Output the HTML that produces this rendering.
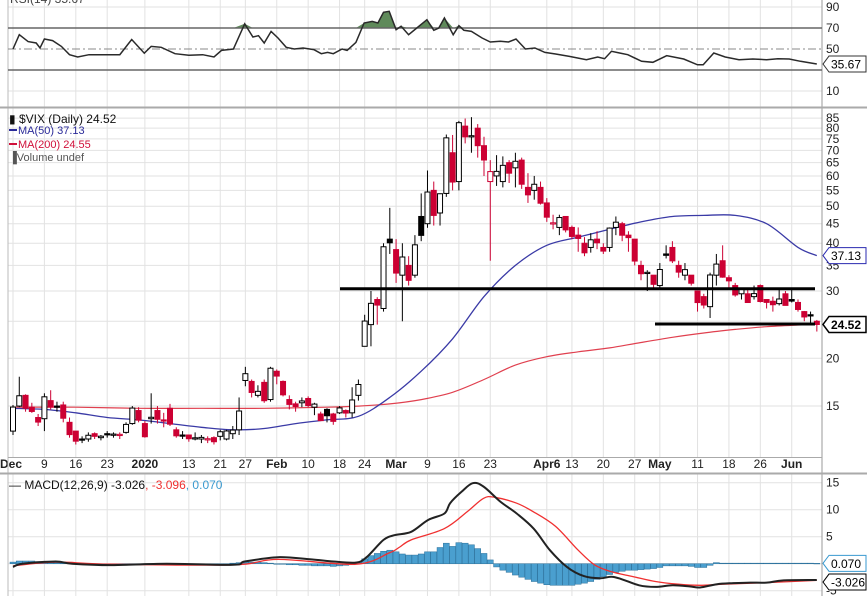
<!DOCTYPE html>
<html><head><meta charset="utf-8"><style>
body{margin:0;background:#fff;}
svg{display:block;font-family:"Liberation Sans",sans-serif;}
</style></head><body>
<svg id="c" width="867" height="596" viewBox="0 0 867 596" xmlns="http://www.w3.org/2000/svg"></svg>
<script>
const xLabels=["Dec","9","16","23","2020","13","21","27","Feb","10","18","24","Mar","9","16","23","Apr6","13","20","27","May","11","18","26","Jun"];
const xLabelIdx=[0,5,10,15,21,28,33,37,42,47,52,56,61,66,71,76,85,89,94,99,103,109,114,119,124];
const boldLabels=["Dec","2020","Feb","Mar","Apr6","May","Jun"];
const opens=[12.9,15.0,16.0,14.9,14.0,13.9,15.5,15.0,15.1,13.6,12.9,12.3,12.3,12.7,12.4,12.7,12.6,12.6,12.8,13.5,14.6,
13.5,13.9,14.6,13.8,14.8,13.0,12.6,12.6,12.3,12.3,12.3,12.4,12.5,12.3,12.7,13.0,17.5,17.4,16.0,17.3,15.6,
18.5,17.4,15.6,15.2,15.3,15.7,14.9,14.3,14.7,14.3,14.4,14.6,14.4,16.0,21.5,24.5,28.5,27.0,41.0,
38.5,33.0,35.0,33.0,47.0,45.0,55.0,48.0,54.0,69.0,58.0,81.0,76.0,80.0,72.0,58.0,60.0,58.0,65.0,63.0,66.0,56.0,
55.0,56.0,51.0,45.0,44.0,47.0,44.0,42.0,40.0,39.0,41.0,39.0,39.0,44.0,45.0,42.0,41.0,35.0,33.5,33.0,31.0,
37.5,39.0,35.0,33.0,33.0,30.0,29.0,27.3,33.0,36.0,32.5,31.0,29.5,29.5,29.0,31.0,28.5,28.2,27.8,29.5,
28.5,28.0,26.5,26.0,25.0];
const highs=[15.1,17.9,16.1,15.3,14.3,16.2,16.5,15.4,15.4,14.0,12.9,12.5,12.8,12.8,12.6,12.9,12.8,12.8,13.6,15.0,14.9,
13.7,16.2,15.0,14.4,15.2,13.2,12.9,12.6,12.8,12.6,12.5,12.5,13.0,13.0,13.3,15.8,19.0,17.6,17.0,17.6,19.0,
18.7,17.5,16.0,15.4,15.8,15.9,15.3,14.5,14.8,14.4,15.0,14.7,16.8,17.6,26.0,30.0,28.9,40.0,49.5,
41.0,40.0,37.0,42.0,54.0,62.0,58.0,54.0,77.0,76.8,83.6,84.8,85.5,82.0,76.0,66.0,68.0,67.5,66.0,69.0,67.0,61.0,
60.0,58.0,52.5,47.5,47.5,47.0,44.5,44.0,41.5,42.5,43.0,40.0,44.0,47.0,45.5,43.0,41.0,36.0,34.0,33.0,35.5,
39.5,40.5,36.0,35.5,33.0,30.0,29.5,33.5,37.5,39.5,33.0,31.5,30.5,30.5,31.0,31.2,28.5,29.0,30.3,30.0,
30.5,28.5,26.6,26.5,25.2];
const lows=[12.6,14.9,14.5,14.4,13.3,12.9,14.7,14.5,13.6,12.4,11.9,12.0,12.1,12.3,12.2,12.4,12.4,12.3,12.7,13.4,13.6,
12.4,13.5,13.5,13.2,13.3,12.4,12.3,12.1,12.2,12.0,12.0,11.9,12.2,12.2,12.3,12.6,16.9,15.8,15.8,15.3,15.4,
17.1,15.9,14.7,14.5,14.9,14.9,14.2,13.7,13.6,13.4,14.3,14.0,14.0,15.5,21.5,21.5,24.5,26.5,37.5,
31.5,25.0,31.0,32.5,40.5,43.9,44.5,44.5,52.9,55.0,55.0,73.0,69.0,67.0,60.0,36.0,56.5,56.0,57.5,56.0,55.5,51.0,
52.0,50.5,45.5,43.5,42.0,42.7,41.0,38.0,37.0,37.8,38.6,37.5,38.0,42.0,40.5,38.0,35.0,32.0,30.0,30.5,30.5,
36.5,35.5,32.5,32.0,31.0,26.5,27.0,25.5,31.0,32.5,30.5,29.0,28.5,28.0,28.5,28.0,27.0,26.5,27.5,27.5,
28.0,26.5,25.0,24.6,23.5];
const closes=[14.91,15.96,14.80,14.52,13.62,15.86,14.91,14.99,13.94,12.63,12.14,12.29,12.58,12.50,12.51,12.61,12.67,12.65,13.43,14.82,13.78,
12.47,14.02,13.85,13.79,13.45,12.54,12.56,12.32,12.39,12.42,12.32,12.10,12.85,12.91,12.98,14.56,18.23,16.28,16.39,15.49,18.84,
17.97,16.05,15.15,14.96,15.47,15.04,15.18,13.74,14.15,13.68,14.83,14.38,15.56,17.08,25.03,27.85,27.56,39.16,40.11,
33.42,36.82,31.99,39.62,41.94,54.46,47.30,53.90,75.47,57.83,82.69,75.91,76.45,72.00,66.04,61.59,61.67,63.95,61.00,65.54,57.08,53.54,
57.06,50.91,46.80,45.24,46.70,43.35,41.67,41.17,37.76,40.84,40.11,38.15,43.83,45.41,41.98,41.38,35.93,33.29,33.57,31.23,34.15,
37.19,35.97,33.61,34.12,31.44,27.98,27.57,33.04,35.28,32.61,31.89,29.30,30.53,27.99,29.53,28.16,28.01,27.62,28.59,27.51,
28.23,26.84,25.66,25.81,24.52];
const ma50Idx=[0,5,10,15,20,25,30,35,40,45,50,55,60,65,70,75,80,85,90,95,100,105,110,115,120,125,128];
const ma50Val=[14.8,14.7,14.4,14.0,13.8,13.5,13.2,13.0,13.1,13.5,13.8,14.1,15.8,18.5,22.5,29,35,39.5,41.5,43.5,45.5,47,47.3,47.3,45,39,37.13];
const ma200Idx=[0,10,20,30,40,50,55,60,65,70,75,80,85,90,95,100,105,110,115,120,125,128];
const ma200Val=[14.9,14.9,14.8,14.8,14.8,14.9,15.0,15.2,15.6,16.3,17.6,19.2,20.2,20.8,21.3,22.0,22.7,23.3,23.8,24.2,24.45,24.55];
const rsiIdx=[0,1,2.4,3.7,4.3,5,6.3,7.7,9,10.3,12.1,17,18.9,20.9,22,23.6,25.8,28,30.2,32,33.2,35.1,36.9,38.2,39.1,40,41.1,42.2,43.5,44.8,46.2,47.9,49.1,50.1,51,52.4,53.2,54.6,55.9,57.2,58.1,59,59.9,61,61.8,63,64.3,65.9,67,67.8,68.7,70.1,71,71.8,73,74.7,76,77.6,78.9,80.1,81.6,83.1,84.7,86.4,88.6,91.3,93.1,94.2,95.3,96.6,97.9,100.1,101.9,104.1,106.8,109,109.9,111.6,113.4,115.6,117.8,120,121.8,123.6,125.4,128];
const rsiVal=[50,63.6,57,55.7,51,59.5,58,52.5,44.6,42.4,44.6,44.6,59,46,52.5,51.6,45.5,44,44.6,42.4,48.7,50,74,61.4,62.7,55.7,66.8,60.5,51.6,50,51,49.4,45.5,46.8,45.5,50,48.7,56.3,74.8,76.3,74.8,85,85.9,68.4,71.6,63.6,70,77.9,67.8,70,79.5,63.6,72.2,67.8,66.8,60.5,56.7,57.3,56.7,59.5,50,51,46.8,45.2,43,39.8,42.4,40.8,47.8,46.2,44.6,38.3,37.3,43.6,40.5,35,35,46.2,42.4,39.8,40.5,39.8,40.8,40.5,38.3,35.67];
const macdIdx=[0,1.5,6.8,9.4,15.6,24.5,35.1,36.9,42.2,47.5,51,54.6,56.3,59,60.8,63.4,66.1,68.7,69.6,71.4,73.2,74.9,77.6,80.2,82.9,85.5,88.2,90.9,93.5,95.3,97,99.7,102.3,105,107.7,109.4,112.1,114.7,117.4,120,122.7,128];
const macdVal=[-0.6,0,0.4,0,-0.25,0,-0.2,0.4,1.2,0.8,0.4,0.2,1.2,4.4,5.3,5.9,8.1,9.3,11.2,13.3,14.9,14.3,11.5,9.3,6.5,2.5,-0.6,-2.3,-2.7,-2.4,-2.9,-4,-4.3,-4.0,-4.2,-4.4,-3.8,-3.6,-3.5,-3.5,-3.1,-3.026];
const sigIdx=[0,6.8,15.6,35.1,42.2,54.6,59.9,61.6,63.4,68.7,72.3,74.9,76.7,80.2,82.9,86.4,90,92.6,95.3,98.8,102.3,105.9,109.4,113,120,128];
const sigVal=[-0.4,0.3,-0.1,-0.2,0.8,-0.1,2.0,3.1,4.4,6.5,9.6,12.1,12.3,11.2,9.6,6.9,2.5,-0.2,-1.5,-2.4,-3.3,-3.8,-4.0,-3.8,-3.5,-3.096];
const hist=[0.3,0.5,0.5,0.5,0.4, 0.3,0.2,0.2,0.1,0.1,
0,0,-0.1,-0.1,-0.1,-0.1,0,0,0,0, 0,0,0,0,0,0,0,0,0,0, 0,0,0,0,0,0.1,0.2,0.3,0.3,0.3,
0.2,0.1,0,-0.1,-0.2,-0.2,-0.3,-0.3,-0.4,-0.4,
-0.4,-0.5,-0.4,-0.3,-0.2, 0.3,0.9,1.5,1.9,2.3, 2.5,2.2,1.8,1.6,1.6, 1.8,2.2,2.2,3.0,3.8, 3.2,3.9,3.8,3.5,2.8,
1.9,0.7,-0.6,-1.2,-1.6, -2.1,-2.5,-2.9,-3.3,-3.6, -3.9,-4.0,-4.0,-4.0,-4.0, -3.8,-3.6,-3.3,-2.9,-2.4,
-2.0,-1.6,-1.4,-1.2,-1.2, -1.1,-1.0,-0.9,-0.7,-0.4, -0.4,-0.4,-0.4,-0.5,-0.7, -0.7,-0.3,0.2,0.1,0.1,
0.1,0.1,0.1,0.1,0.1,0.1,0.1,0.1,0.1,0.1,0.1,0.1,0.1,0.07];
const priceTicks=[85,80,75,70,65,60,55,50,45,40,35,30,25,20,15];
const rsiTicks=[90,70,50,30,10];
const macdTicks=[15,10,5,0,-5];
const supportLevels=[30.4,24.6];

const NS="http://www.w3.org/2000/svg";
const svg=document.getElementById('c');
const L=8,R=822;
function xI(i){return 13+i*6.28;}
function yP(v){return 291-(Math.log(v)-Math.log(30))*166;}
function yR(v){return 49-(v-50)*1.05;}
function yM(v){return 563.7-v*5.4;}
function el(tag,attrs,parent){const e=document.createElementNS(NS,tag);for(const k in attrs)e.setAttribute(k,attrs[k]);(parent||svg).appendChild(e);return e;}
function txt(s,x,y,attrs){const t=el('text',Object.assign({x:x,y:y,'font-size':11,fill:'#000'},attrs||{}));t.textContent=s;return t;}
function smooth(ix,vals,fy){
  const p=ix.map((i,k)=>[xI(i),fy(vals[k])]);
  let d='M'+p[0][0].toFixed(1)+','+p[0][1].toFixed(1);
  for(let k=0;k<p.length-1;k++){
    const p0=p[k-1]||p[k],p1=p[k],p2=p[k+1],p3=p[k+2]||p2;
    const c1=[p1[0]+(p2[0]-p0[0])/6,p1[1]+(p2[1]-p0[1])/6];
    const c2=[p2[0]-(p3[0]-p1[0])/6,p2[1]-(p3[1]-p1[1])/6];
    d+=` C${c1[0].toFixed(1)},${c1[1].toFixed(1)} ${c2[0].toFixed(1)},${c2[1].toFixed(1)} ${p2[0].toFixed(1)},${p2[1].toFixed(1)}`;
  }
  return d;
}

const defs=el('defs',{});
const cp1=el('clipPath',{id:'cm'},defs);el('rect',{x:L,y:108,width:R-L,height:349},cp1);
const cp2=el('clipPath',{id:'cr'},defs);el('rect',{x:L,y:0,width:R-L,height:107},cp2);
const cp3=el('clipPath',{id:'cd'},defs);el('rect',{x:L,y:474,width:R-L,height:122},cp3);

for(let k=0;k<xLabelIdx.length;k++){
  const x=xI(xLabelIdx[k]);
  for(const [a,b] of [[0,107],[108,457],[474,596]]){
    const g=el('line',{x1:x,x2:x,y1:a,y2:b,stroke:'#e2e2e2','stroke-width':1});
    
    
  }
  const t=txt(xLabels[k],k===0?0:x,468,{'text-anchor':k===0?'start':'middle','font-size':12,'font-weight':boldLabels.includes(xLabels[k])?'bold':'normal',fill:'#222'});
  
  
}
priceTicks.forEach(v=>{
  const y=yP(v);
  el('line',{x1:L,x2:R,y1:y,y2:y,stroke:'#e2e2e2'});
  if(v!==25){const t=txt(String(v),826,y+4,{'font-size':12,fill:'#222'});
  
  }
});
rsiTicks.forEach(v=>{
  const y=yR(v);
  if(v===90||v===10) el('line',{x1:L,x2:R,y1:y,y2:y,stroke:'#e2e2e2'});
  if(v!==30){const t=txt(String(v),826,y+4,{'font-size':12,fill:'#222'});
  
  }
});
macdTicks.forEach(v=>{
  const y=yM(v);
  el('line',{x1:L,x2:R,y1:y,y2:y,stroke:'#e2e2e2'});
  if(v!==0){const t=txt(String(v),826,y+4,{'font-size':12,fill:'#222'});
  
  }
});

el('line',{x1:R,x2:R,y1:0,y2:596,stroke:'#999'});
el('line',{x1:L,x2:L,y1:0,y2:596,stroke:'#bbb'});
el('line',{x1:0,x2:867,y1:107.5,y2:107.5,stroke:'#aaa','stroke-width':2});
el('line',{x1:L,x2:R,y1:457.5,y2:457.5,stroke:'#aaa'});
el('line',{x1:0,x2:867,y1:473.5,y2:473.5,stroke:'#aaa','stroke-width':2});

const rg=el('g',{'clip-path':'url(#cr)'});


function pts(ix,vals,fy){return ix.map((i,k)=>xI(i).toFixed(1)+','+fy(vals[k]).toFixed(1));}
const y70=yR(70);
const fillP=['M'+xI(rsiIdx[0])+','+y70];
rsiIdx.forEach((i,k)=>fillP.push('L'+xI(i).toFixed(1)+','+Math.min(y70,yR(rsiVal[k])).toFixed(1)));
fillP.push('L'+xI(rsiIdx[rsiIdx.length-1])+','+y70+'Z');
const rf=el('path',{d:fillP.join(' '),fill:'#5f8a5a'},rg);


el('line',{x1:L,x2:R,y1:y70,y2:y70,stroke:'#666','stroke-width':1.5},rg);
el('line',{x1:L,x2:R,y1:yR(30),y2:yR(30),stroke:'#666','stroke-width':1.5},rg);
el('line',{x1:L,x2:R,y1:yR(50),y2:yR(50),stroke:'#888','stroke-dasharray':'8,3,2,3'},rg);
const rl=el('polyline',{points:pts(rsiIdx,rsiVal,yR).join(' '),fill:'none',stroke:'#2a2a2a','stroke-width':1.5},rg);


const rt=txt('RSI(14) 35.67',10,3,{'font-size':12,fill:'#444'});



const mg=el('g',{'clip-path':'url(#cm)'});


const m200=el('path',{d:smooth(ma200Idx,ma200Val,yP),fill:'none',stroke:'#e0404f','stroke-width':1.2},mg);


const m50=el('path',{d:smooth(ma50Idx,ma50Val,yP),fill:'none',stroke:'#3a3aa6','stroke-width':1.3},mg);


for(let i=0;i<closes.length;i++){
  const o=opens[i],c=closes[i],h=highs[i],l=lows[i];
  const prev=i>0?closes[i-1]:o;
  const col=c>=prev?'#000':'#cc0033';
  const x=xI(i);
  const g=el('g',{},mg);
  
  
  el('line',{x1:x,x2:x,y1:yP(h),y2:yP(l),stroke:col,'stroke-width':1},g);
  const top=yP(Math.max(o,c)),bot=yP(Math.min(o,c));
  el('rect',{x:x-2.5,y:top,width:5,height:Math.max(1.2,bot-top),fill:c>o?'#fff':col,stroke:col,'stroke-width':1},g);
}
supportLevels.forEach((v,k)=>{
  const s=el('line',{x1:k===0?340:655,x2:815,y1:yP(v),y2:yP(v),stroke:'#000','stroke-width':3},mg);
  
  
});
const lg=el('g',{});


txt('\u25AE $VIX (Daily) 24.52',9,123,{'font-size':12,fill:'#111'});
el('rect',{x:9,y:129,width:8,height:2,fill:'#2a2a99'},lg);
txt('MA(50) 37.13',18,134,{'font-size':11,fill:'#2a2a99'});
el('rect',{x:9,y:143,width:8,height:2,fill:'#d0103a'},lg);
txt('MA(200) 24.55',18,148,{'font-size':11,fill:'#d0103a'});
txt('\u2590Volume undef',9,161,{'font-size':11,fill:'#555'});

const dg=el('g',{'clip-path':'url(#cd)'});


const y0=yM(0);
for(let i=0;i<hist.length;i++){
  const y=yM(hist[i]);
  const b=el('rect',{x:xI(i)-3,y:Math.min(y,y0),width:6,height:Math.max(0.6,Math.abs(y-y0)),fill:'#4a9fcf',stroke:'#2a6f9a','stroke-width':0.5},dg);
  
  
}
const sl=el('path',{d:smooth(sigIdx,sigVal,yM),fill:'none',stroke:'#f03030','stroke-width':1.3},dg);


const ml=el('path',{d:smooth(macdIdx,macdVal,yM),fill:'none',stroke:'#222','stroke-width':2},dg);


const mt=el('text',{x:9,y:489,'font-size':12,fill:'#111'});


mt.innerHTML='<tspan>\u2014 MACD(12,26,9) -3.026</tspan><tspan fill="#f03030">, -3.096</tspan><tspan fill="#3a9ad0">, 0.070</tspan>';

function tag(v,y,border,bold,name){
  const g=el('g',{});
  
  
  el('path',{d:`M${R+1},${y} L${R+7},${y-8} L866,${y-8} L866,${y+8} L${R+7},${y+8} Z`,fill:'#fff',stroke:border,'stroke-width':bold?1.5:1},g);
  const t=txt(v,R+9,y+4.5,{'font-size':12,'font-weight':bold?'bold':'normal',fill:'#000'});
  g.appendChild(t);
}
tag('35.67',yR(35.67),'#333',false,'rsi-value-tag');
tag('37.13',yP(37.13),'#2a2ab0',false,'ma50-value-tag');
tag('24.52',yP(24.52),'#000',true,'price-value-tag');
tag('0.070',yM(0.07),'#3a9ad0',false,'histogram-value-tag');
tag('-3.026',yM(-3.026)+2,'#000',false,'macd-value-tag');
</script>
</body></html>
